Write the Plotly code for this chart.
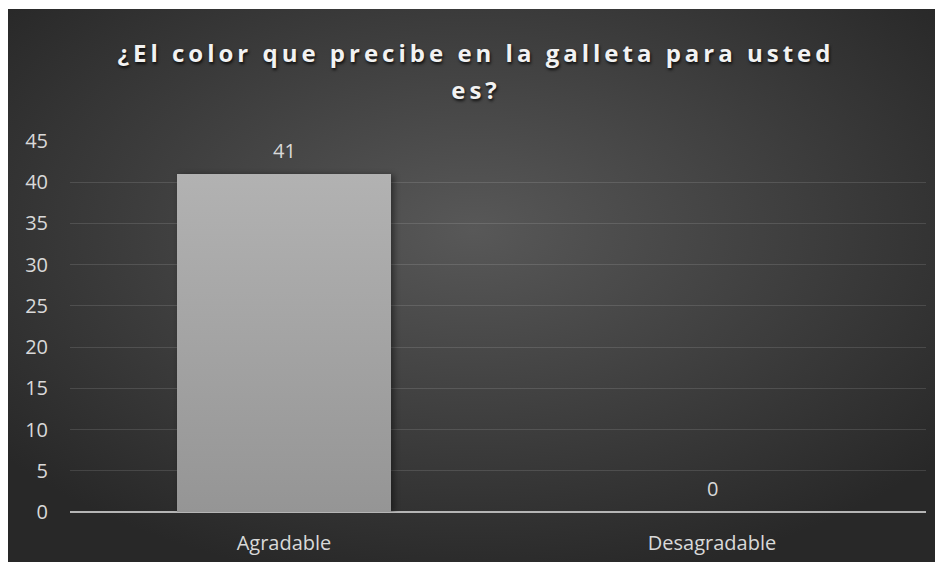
import base64
import plotly.graph_objects as go

categories = ["Agradable", "Desagradable"]
values = [41, 0]
y_ticks = [0, 5, 10, 15, 20, 25, 30, 35, 40, 45]
title_text = "¿El color que precibe en la galleta para usted<br>es?"

W, H = 930, 554
L, R, T, B = 62, 12, 133, 50
pw, ph = W - L - R, H - T - B

svg = (
    '<svg xmlns="http://www.w3.org/2000/svg" width="930" height="553" '
    'viewBox="0 0 930 553" preserveAspectRatio="none">'
    '<defs><radialGradient id="g" cx="50%" cy="40%" r="65%">'
    '<stop offset="0%" stop-color="#585858"/>'
    '<stop offset="100%" stop-color="#282828"/>'
    '</radialGradient></defs>'
    '<rect width="930" height="553" fill="url(#g)"/></svg>'
)
src = "data:image/svg+xml;base64," + base64.b64encode(svg.encode()).decode()

label_font = dict(family="Open Sans", size=20, color="#d9d9d9")

fig = go.Figure()
fig.add_trace(go.Bar(
    x=categories, y=values,
    marker=dict(color="#a3a3a3", line=dict(width=0)),
    width=0.5, hoverinfo="skip",
))

for c, v in zip(categories, values):
    fig.add_annotation(x=c, y=v, text=str(v), showarrow=False,
                       xref="x", yref="y", yanchor="bottom", yshift=8,
                       font=label_font)

fig.update_layout(
    width=W, height=H,
    margin=dict(l=L, r=R, t=T, b=B),
    paper_bgcolor="white", plot_bgcolor="rgba(0,0,0,0)",
    showlegend=False,
    title=dict(text=title_text, x=468 / W, xanchor="center", xref="container",
               y=1 - 54 / H, yanchor="top",
               font=dict(family="Open Sans", size=24, color="#f2f2f2",
                         weight="bold", shadow="1px 2px 3px rgba(0,0,0,0.8)")),
    images=[dict(source=src, xref="paper", yref="paper",
                 x=(0 - L) / pw, y=(H - B - 1) / ph,
                 sizex=W / pw, sizey=553 / ph,
                 sizing="stretch", xanchor="left", yanchor="top", layer="below")],
    xaxis=dict(showgrid=False, showline=False, zeroline=False, automargin=False,
               tickfont=label_font, ticklabelstandoff=17),
    yaxis=dict(range=[0, 45], tickvals=y_ticks, showgrid=True, automargin=False,
               gridcolor="rgba(255,255,255,0.12)", gridwidth=1,
               zeroline=True, zerolinecolor="#b5b5b5", zerolinewidth=2,
               showline=False, tickfont=label_font, ticklabelstandoff=21),
)

post = """
var gd = document.getElementById('{plot_id}');
gd.querySelectorAll('.gtitle').forEach(function(e){ e.style.letterSpacing = '4px'; });
var lines = gd.querySelectorAll('.gtitle tspan.line');
if (lines.length > 0) {
  var last = lines[lines.length - 1];
  var dy = last.getAttribute('dy');
  if (dy && dy.indexOf('em') > 0) {
    last.setAttribute('dy', (parseFloat(dy) * 1.54 / 1.3) + 'em');
  }
}
var ns = 'http://www.w3.org/2000/svg';
var msvg = gd.querySelector('.main-svg');
var defs = msvg.querySelector('defs');
if (!defs) { defs = document.createElementNS(ns, 'defs'); msvg.insertBefore(defs, msvg.firstChild); }
var lg = document.createElementNS(ns, 'linearGradient');
lg.setAttribute('id', 'bargrad');
lg.setAttribute('x1', '0'); lg.setAttribute('y1', '0');
lg.setAttribute('x2', '0'); lg.setAttribute('y2', '1');
[['0', '#b2b2b2'], ['1', '#959595']].forEach(function(s){
  var st = document.createElementNS(ns, 'stop');
  st.setAttribute('offset', s[0]); st.setAttribute('stop-color', s[1]);
  lg.appendChild(st);
});
defs.appendChild(lg);
gd.querySelectorAll('.bars .point path').forEach(function(p){
  p.style.fill = 'url(#bargrad)';
  p.style.filter = 'drop-shadow(3px 1px 3px rgba(0,0,0,0.45))';
});
"""

fig.write_html("out.html", post_script=post)
